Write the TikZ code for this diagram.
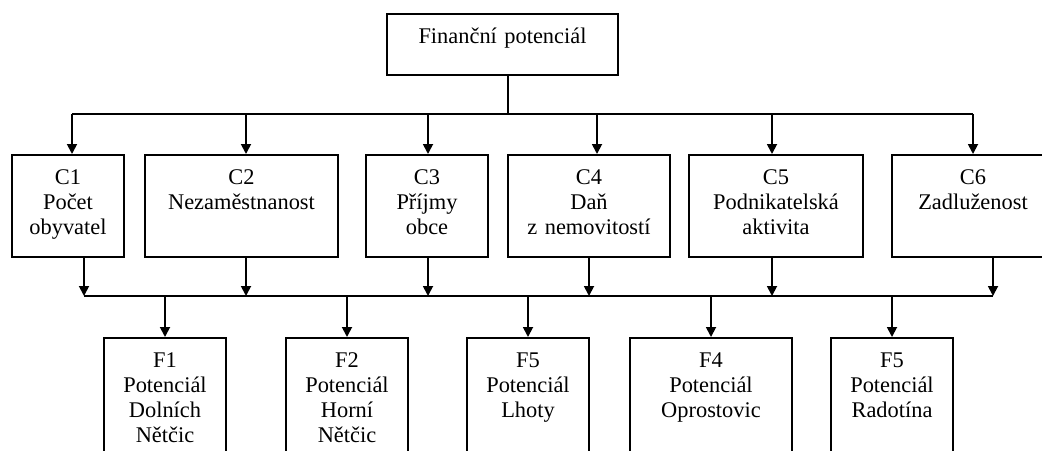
\documentclass[tikz,border=0pt]{standalone}
\usepackage{fontspec}
\setmainfont{Liberation Serif}
\usetikzlibrary{arrows.meta}

\begin{document}
\begin{tikzpicture}[
  x=0.5pt, y=-0.5pt,
  font=\fontsize{11.2pt}{12.5pt}\selectfont,
  box/.style={draw, line width=0.9pt, anchor=north, inner sep=0pt,
    align=center, text width=#1, text height=15pt},
  top/.style={box=#1, text depth=15.5pt},
  crit/.style={box=#1, text depth=36pt},
  fin/.style={box=#1, text depth=52pt},
  arrow/.style={-{Triangle[length=5pt, width=5pt]}, line width=0.9pt},
  bus/.style={line width=0.9pt},
]
  \useasboundingbox (0,0) rectangle (1042,450);
  \fill[white] (0,0) rectangle (1042,450);
  \clip (0,0) rectangle (1042,450);

  \node[top=115.5pt] (fp) at (502.5,13) {Finanční potenciál};

  \node[crit=56pt]   (c1) at (68,154)    {C1\\Počet\\obyvatel};
  \node[crit=96.5pt] (c2) at (241.5,154) {C2\\Nezaměstnanost};
  \node[crit=61pt]   (c3) at (427,154)   {C3\\Příjmy\\obce};
  \node[crit=81pt]   (c4) at (589,154)   {C4\\Daň\\z nemovitostí};
  \node[crit=87pt]   (c5) at (776,154)   {C5\\Podnikatelská\\aktivita};
  \node[crit=81pt]   (c6) at (973,154)   {C6\\Zadluženost};

  \node[fin=61pt] (f1) at (165,337) {F1\\Potenciál\\Dolních\\Nětčic};
  \node[fin=61pt] (f2) at (347,337) {F2\\Potenciál\\Horní\\Nětčic};
  \node[fin=61pt] (f3) at (528,337) {F5\\Potenciál\\Lhoty};
  \node[fin=81pt] (f4) at (711,337) {F4\\Potenciál\\Oprostovic};
  \node[fin=61pt] (f5) at (892,337) {F5\\Potenciál\\Radotína};

  % upper bus
  \coordinate (c1in) at (72,114);
  \coordinate (c2in) at (246,114);
  \coordinate (c3in) at (428,114);
  \coordinate (c4in) at (597,114);
  \coordinate (c5in) at (772,114);
  \coordinate (c6in) at (973,114);
  \coordinate (fpout) at (508,114);

  \draw[bus] (fpout |- fp.south) -- (fpout);
  \draw[bus] (c1in) -- (c6in);
  \draw[arrow] (c1in) -- (c1in |- c1.north);
  \draw[arrow] (c2in) -- (c2in |- c2.north);
  \draw[arrow] (c3in) -- (c3in |- c3.north);
  \draw[arrow] (c4in) -- (c4in |- c4.north);
  \draw[arrow] (c5in) -- (c5in |- c5.north);
  \draw[arrow] (c6in) -- (c6in |- c6.north);

  % lower bus
  \coordinate (c1out) at (84,296);
  \coordinate (c2out) at (246,296);
  \coordinate (c3out) at (428,296);
  \coordinate (c4out) at (589,296);
  \coordinate (c5out) at (772,296);
  \coordinate (c6out) at (993,296);

  \draw[bus] (c1out) -- (c6out);
  \draw[arrow] (c1out |- c1.south) -- (c1out);
  \draw[arrow] (c2out |- c2.south) -- (c2out);
  \draw[arrow] (c3out |- c3.south) -- (c3out);
  \draw[arrow] (c4out |- c4.south) -- (c4out);
  \draw[arrow] (c5out |- c5.south) -- (c5out);
  \draw[arrow] (c6out |- c6.south) -- (c6out);

  \draw[arrow] (f1.north |- c1out) -- (f1.north);
  \draw[arrow] (f2.north |- c1out) -- (f2.north);
  \draw[arrow] (f3.north |- c1out) -- (f3.north);
  \draw[arrow] (f4.north |- c1out) -- (f4.north);
  \draw[arrow] (f5.north |- c1out) -- (f5.north);
\end{tikzpicture}
\end{document}
